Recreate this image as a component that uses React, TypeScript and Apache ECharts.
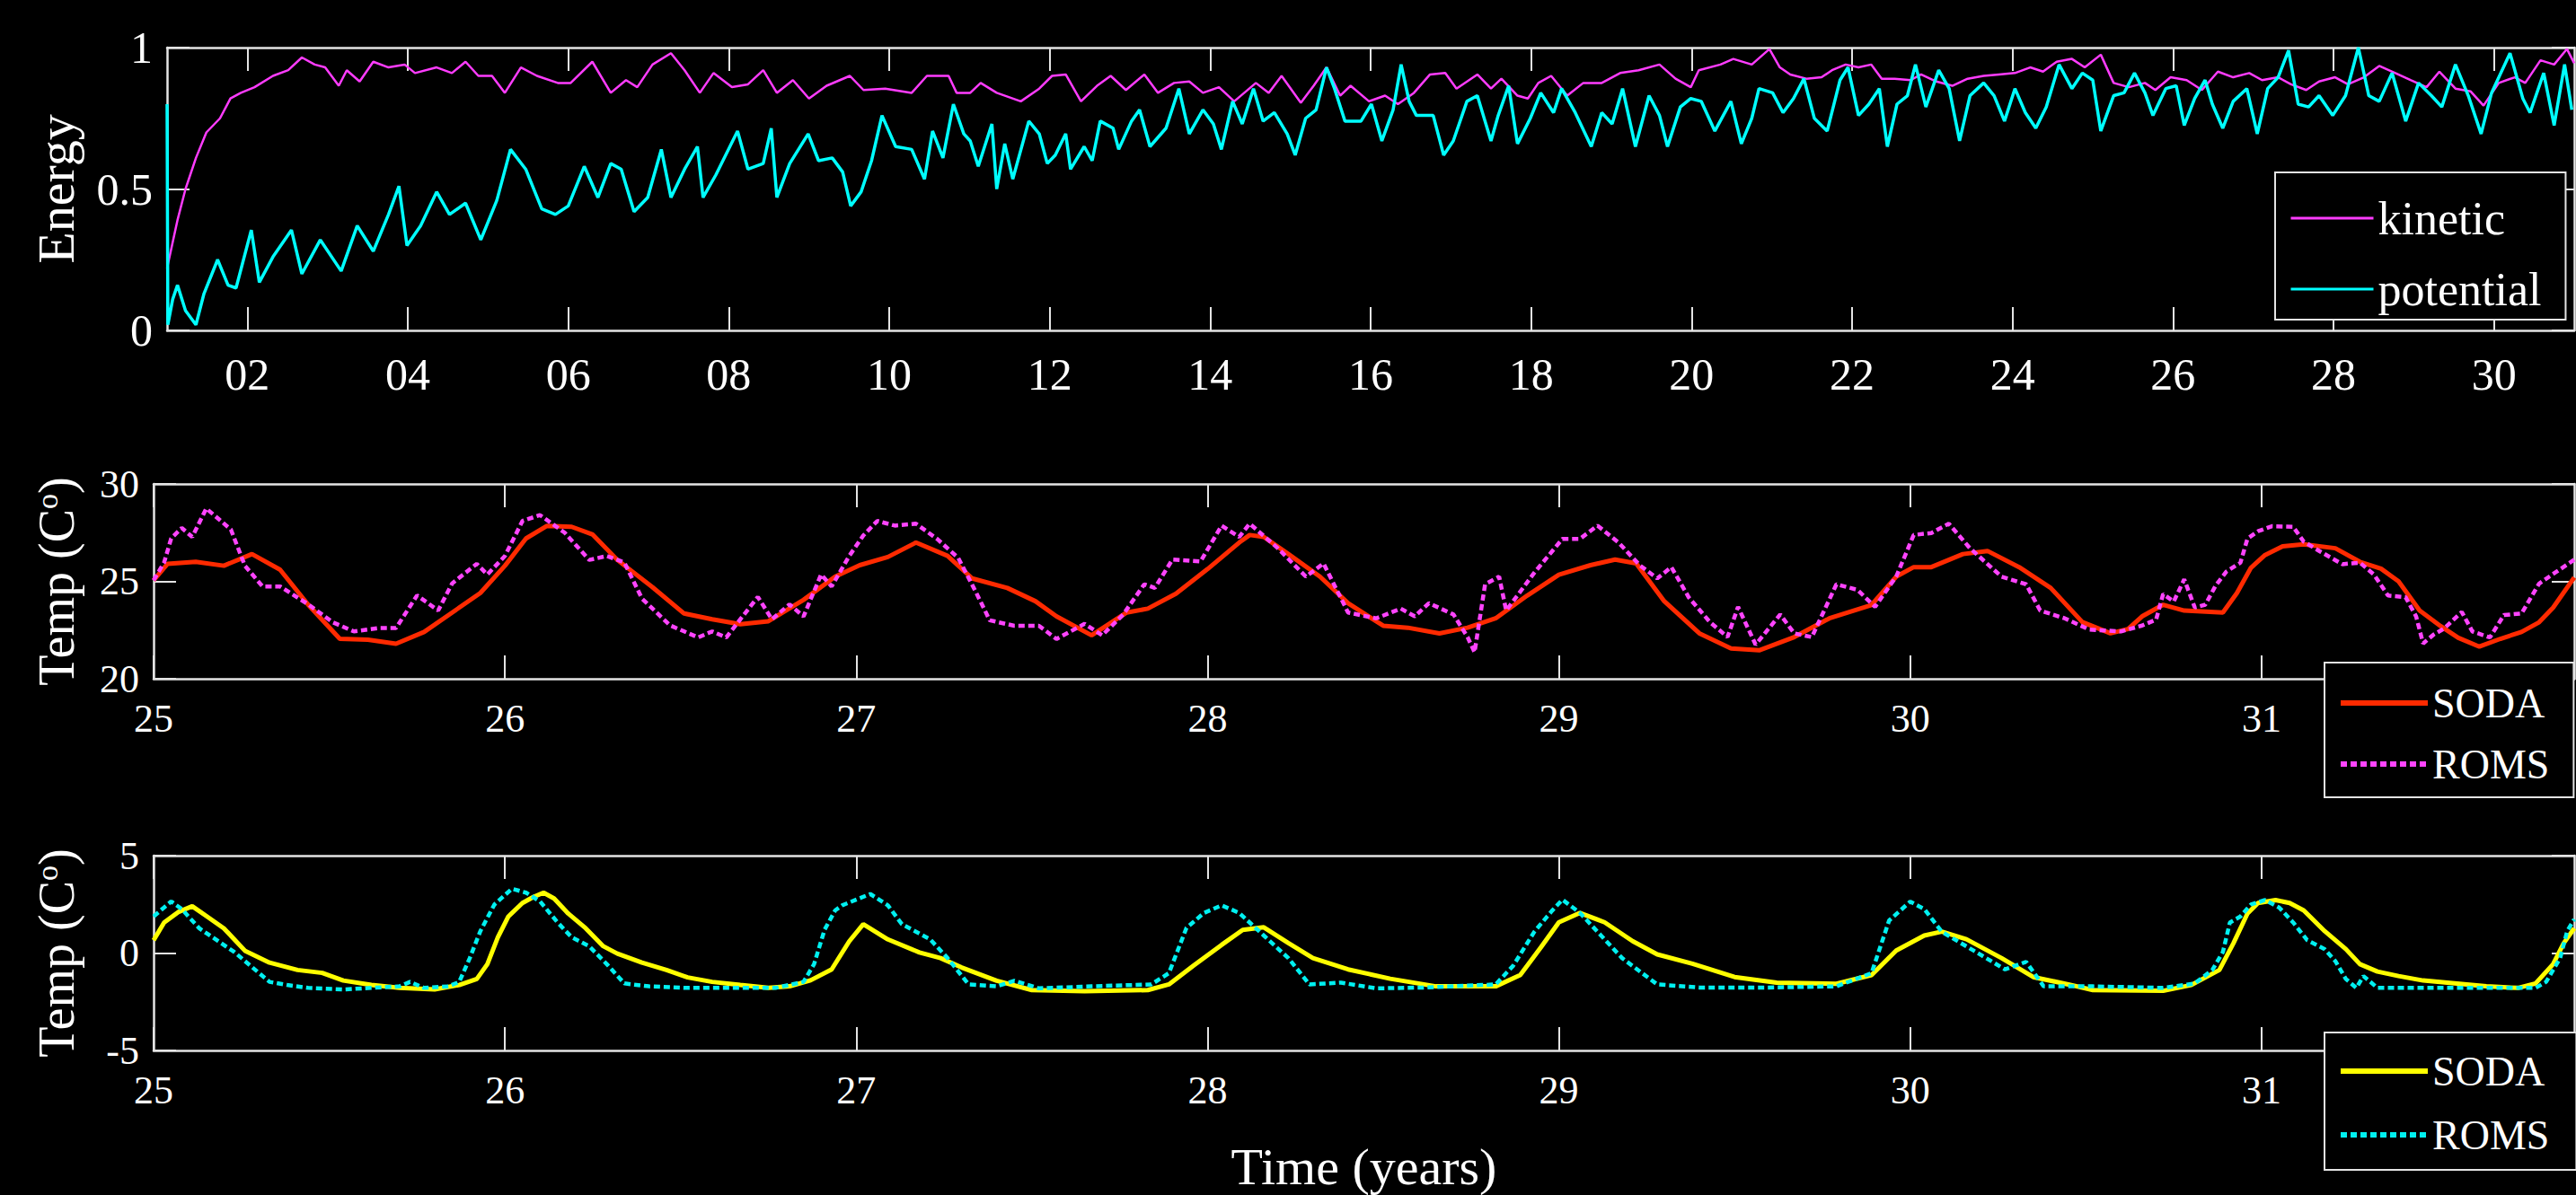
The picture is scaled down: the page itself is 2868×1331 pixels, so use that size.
import React, { useEffect, useRef } from "react";
import * as echarts from "echarts";

const W = 2868;
const H = 1331;

// ---------- Panel 1: energy (year, normalized energy) ----------
const kinetic: number[][] = [
  [1.0, 0.22], [1.13, 0.39], [1.23, 0.5], [1.36, 0.61], [1.49, 0.7], [1.66, 0.75], [1.79, 0.82], [1.92, 0.84],
  [2.09, 0.86], [2.32, 0.9], [2.51, 0.92], [2.68, 0.965], [2.84, 0.94], [2.97, 0.93], [3.14, 0.865], [3.24, 0.92],
  [3.4, 0.88], [3.57, 0.95], [3.76, 0.93], [3.96, 0.94], [4.09, 0.91], [4.36, 0.93], [4.55, 0.91], [4.72, 0.95],
  [4.88, 0.9], [5.05, 0.9], [5.21, 0.84], [5.41, 0.93], [5.61, 0.9], [5.87, 0.875], [6.03, 0.875], [6.3, 0.95],
  [6.53, 0.84], [6.72, 0.885], [6.86, 0.86], [7.05, 0.94], [7.28, 0.98], [7.45, 0.92], [7.64, 0.84], [7.81, 0.91],
  [8.04, 0.86], [8.24, 0.87], [8.43, 0.92], [8.6, 0.84], [8.8, 0.885], [9.0, 0.82], [9.22, 0.865], [9.51, 0.9],
  [9.68, 0.85], [9.95, 0.855], [10.28, 0.84], [10.47, 0.9], [10.74, 0.9], [10.84, 0.84], [11.01, 0.84], [11.14, 0.875],
  [11.34, 0.84], [11.64, 0.81], [11.87, 0.855], [12.03, 0.9], [12.2, 0.905], [12.39, 0.81], [12.59, 0.865], [12.76, 0.9],
  [12.95, 0.85], [13.18, 0.905], [13.35, 0.84], [13.55, 0.875], [13.74, 0.88], [13.91, 0.84], [14.11, 0.86], [14.3, 0.81],
  [14.57, 0.875], [14.73, 0.84], [14.89, 0.9], [15.13, 0.805], [15.29, 0.865], [15.45, 0.93], [15.62, 0.83], [15.75, 0.865],
  [15.98, 0.81], [16.18, 0.83], [16.34, 0.8], [16.54, 0.84], [16.74, 0.905], [16.93, 0.91], [17.07, 0.855], [17.33, 0.905],
  [17.5, 0.855], [17.63, 0.89], [17.83, 0.83], [17.96, 0.82], [18.09, 0.875], [18.25, 0.9], [18.45, 0.83], [18.65, 0.875],
  [18.88, 0.875], [19.11, 0.91], [19.34, 0.92], [19.6, 0.94], [19.8, 0.89], [19.99, 0.86], [20.09, 0.92], [20.36, 0.94],
  [20.52, 0.96], [20.75, 0.94], [20.97, 0.995], [21.1, 0.93], [21.23, 0.905], [21.43, 0.89], [21.62, 0.895], [21.75, 0.92],
  [21.92, 0.94], [22.08, 0.93], [22.24, 0.94], [22.37, 0.89], [22.53, 0.89], [22.73, 0.885], [22.86, 0.905], [23.05, 0.88],
  [23.25, 0.865], [23.44, 0.89], [23.64, 0.9], [23.83, 0.905], [24.03, 0.91], [24.22, 0.93], [24.38, 0.915], [24.55, 0.95],
  [24.74, 0.96], [24.9, 0.93], [25.1, 0.975], [25.26, 0.875], [25.45, 0.86], [25.65, 0.875], [25.78, 0.85], [25.97, 0.895],
  [26.17, 0.885], [26.36, 0.85], [26.56, 0.915], [26.75, 0.895], [26.95, 0.91], [27.11, 0.885], [27.31, 0.895], [27.47, 0.87],
  [27.66, 0.85], [27.82, 0.88], [28.02, 0.895], [28.18, 0.87], [28.38, 0.895], [28.57, 0.935], [28.77, 0.91], [28.96, 0.885],
  [29.16, 0.86], [29.32, 0.915], [29.52, 0.855], [29.71, 0.845], [29.87, 0.795], [30.06, 0.875], [30.26, 0.895], [30.39, 0.875],
  [30.58, 0.955], [30.75, 0.94], [30.91, 0.995], [31.0, 0.945],
];

const potential: number[][] = [
  [1.0, 0.8], [1.01, 0.02], [1.07, 0.11], [1.13, 0.16], [1.23, 0.07], [1.36, 0.02], [1.46, 0.13], [1.63, 0.25],
  [1.76, 0.16], [1.86, 0.15], [2.05, 0.355], [2.15, 0.17], [2.32, 0.26], [2.55, 0.355], [2.68, 0.2], [2.91, 0.32],
  [3.17, 0.21], [3.37, 0.37], [3.57, 0.28], [3.76, 0.41], [3.89, 0.51], [3.99, 0.3], [4.16, 0.37], [4.36, 0.49],
  [4.52, 0.41], [4.72, 0.45], [4.91, 0.32], [5.11, 0.46], [5.28, 0.64], [5.47, 0.57], [5.67, 0.43], [5.84, 0.41],
  [6.0, 0.44], [6.2, 0.58], [6.37, 0.47], [6.53, 0.59], [6.66, 0.57], [6.82, 0.42], [6.99, 0.47], [7.16, 0.64],
  [7.28, 0.47], [7.45, 0.57], [7.61, 0.65], [7.68, 0.47], [7.84, 0.55], [8.11, 0.705], [8.24, 0.57], [8.43, 0.59],
  [8.53, 0.715], [8.6, 0.47], [8.76, 0.59], [8.99, 0.695], [9.12, 0.6], [9.29, 0.61], [9.42, 0.56], [9.52, 0.44],
  [9.65, 0.49], [9.78, 0.6], [9.91, 0.76], [10.08, 0.65], [10.28, 0.64], [10.44, 0.535], [10.54, 0.705], [10.67, 0.61],
  [10.8, 0.8], [10.93, 0.695], [11.01, 0.67], [11.11, 0.58], [11.28, 0.73], [11.34, 0.5], [11.44, 0.66], [11.54, 0.535],
  [11.74, 0.74], [11.87, 0.695], [11.97, 0.59], [12.07, 0.62], [12.2, 0.695], [12.26, 0.57], [12.43, 0.65], [12.53, 0.6],
  [12.63, 0.74], [12.79, 0.715], [12.86, 0.64], [13.02, 0.74], [13.12, 0.78], [13.25, 0.65], [13.45, 0.715], [13.61, 0.855],
  [13.74, 0.695], [13.91, 0.78], [14.04, 0.73], [14.14, 0.64], [14.28, 0.81], [14.4, 0.73], [14.54, 0.855], [14.66, 0.74],
  [14.8, 0.77], [14.96, 0.695], [15.06, 0.62], [15.19, 0.75], [15.32, 0.78], [15.45, 0.93], [15.55, 0.855], [15.68, 0.74],
  [15.88, 0.74], [16.01, 0.8], [16.14, 0.67], [16.28, 0.78], [16.38, 0.94], [16.48, 0.81], [16.57, 0.76], [16.78, 0.76],
  [16.91, 0.62], [17.03, 0.67], [17.2, 0.81], [17.33, 0.83], [17.5, 0.67], [17.59, 0.76], [17.72, 0.865], [17.83, 0.66],
  [17.99, 0.75], [18.12, 0.84], [18.28, 0.77], [18.38, 0.855], [18.55, 0.77], [18.75, 0.65], [18.88, 0.77], [19.01, 0.73],
  [19.14, 0.855], [19.3, 0.65], [19.47, 0.83], [19.6, 0.76], [19.7, 0.65], [19.86, 0.79], [19.99, 0.82], [20.12, 0.81],
  [20.29, 0.705], [20.49, 0.81], [20.62, 0.66], [20.75, 0.75], [20.84, 0.855], [21.01, 0.84], [21.14, 0.77], [21.27, 0.82],
  [21.4, 0.89], [21.53, 0.75], [21.69, 0.705], [21.85, 0.885], [21.95, 0.93], [22.08, 0.76], [22.21, 0.8], [22.34, 0.855],
  [22.44, 0.65], [22.56, 0.8], [22.69, 0.83], [22.79, 0.94], [22.92, 0.79], [23.08, 0.92], [23.21, 0.855], [23.34, 0.67],
  [23.47, 0.83], [23.64, 0.875], [23.77, 0.83], [23.9, 0.74], [24.03, 0.855], [24.16, 0.77], [24.29, 0.715], [24.42, 0.79],
  [24.58, 0.94], [24.74, 0.855], [24.87, 0.91], [25.0, 0.885], [25.1, 0.705], [25.26, 0.83], [25.39, 0.84], [25.52, 0.91],
  [25.65, 0.84], [25.75, 0.76], [25.91, 0.855], [26.04, 0.865], [26.14, 0.725], [26.27, 0.82], [26.4, 0.885], [26.49, 0.8],
  [26.62, 0.715], [26.75, 0.81], [26.92, 0.855], [27.05, 0.695], [27.18, 0.855], [27.31, 0.895], [27.44, 0.99], [27.56, 0.8],
  [27.69, 0.79], [27.82, 0.83], [27.99, 0.76], [28.15, 0.83], [28.31, 1.0], [28.44, 0.83], [28.57, 0.81], [28.73, 0.91],
  [28.9, 0.74], [29.06, 0.875], [29.22, 0.83], [29.35, 0.79], [29.52, 0.94], [29.68, 0.83], [29.84, 0.695], [29.97, 0.84],
  [30.2, 0.98], [30.36, 0.82], [30.45, 0.77], [30.62, 0.91], [30.75, 0.725], [30.88, 0.94], [30.97, 0.78],
];

// ---------- Panel 2: temperature (year, °C) ----------
const sodaWarm: number[][] = [
  [25.0, 25.05], [25.04, 25.9], [25.12, 26.0], [25.2, 25.8], [25.28, 26.4], [25.36, 25.6], [25.44, 23.8], [25.53, 22.05],
  [25.61, 22.0], [25.69, 21.8], [25.77, 22.4], [25.85, 23.4], [25.93, 24.4], [26.0, 25.8], [26.06, 27.2], [26.12, 27.85],
  [26.19, 27.8], [26.25, 27.4], [26.32, 26.1], [26.42, 24.7], [26.51, 23.35], [26.59, 23.05], [26.67, 22.8], [26.75, 22.95],
  [26.85, 24.05], [26.94, 25.24], [27.01, 25.83], [27.09, 26.25], [27.17, 26.99], [27.26, 26.31], [27.33, 25.15], [27.43, 24.66],
  [27.51, 23.98], [27.57, 23.2], [27.67, 22.23], [27.77, 23.4], [27.83, 23.6], [27.91, 24.37], [28.0, 25.63], [28.09, 26.99],
  [28.12, 27.38], [28.16, 27.28], [28.23, 26.4], [28.32, 25.24], [28.4, 23.88], [28.5, 22.72], [28.57, 22.62], [28.66, 22.33],
  [28.74, 22.62], [28.82, 23.1], [28.91, 24.27], [29.0, 25.34], [29.09, 25.83], [29.16, 26.12], [29.22, 25.92], [29.3, 23.98],
  [29.4, 22.33], [29.49, 21.55], [29.57, 21.46], [29.67, 22.14], [29.77, 23.1], [29.89, 23.79], [29.96, 25.24], [30.01, 25.73],
  [30.06, 25.73], [30.15, 26.4], [30.22, 26.56], [30.31, 25.73], [30.4, 24.66], [30.49, 22.91], [30.57, 22.33], [30.62, 22.55],
  [30.66, 23.2], [30.72, 23.8], [30.78, 23.5], [30.89, 23.4], [30.93, 24.4], [30.97, 25.7], [31.01, 26.35], [31.06, 26.8],
  [31.12, 26.9], [31.21, 26.7], [31.28, 26.0], [31.34, 25.65], [31.39, 25.0], [31.45, 23.5], [31.51, 22.7], [31.56, 22.1],
  [31.62, 21.65], [31.68, 22.05], [31.74, 22.4], [31.79, 22.9], [31.83, 23.65], [31.89, 25.2],
];

const romsWarm: number[][] = [
  [25.0, 25.05], [25.03, 25.97], [25.05, 27.2], [25.08, 27.74], [25.11, 27.28], [25.15, 28.74], [25.22, 27.66], [25.26, 25.8],
  [25.31, 24.74], [25.36, 24.74], [25.44, 23.82], [25.51, 22.9], [25.57, 22.43], [25.64, 22.6], [25.69, 22.6], [25.75, 24.28],
  [25.81, 23.5], [25.85, 24.9], [25.92, 25.9], [25.95, 25.35], [26.0, 26.3], [26.05, 28.1], [26.1, 28.4], [26.17, 27.5],
  [26.24, 26.1], [26.29, 26.3], [26.34, 25.97], [26.39, 24.12], [26.47, 22.74], [26.55, 22.12], [26.59, 22.43], [26.63, 22.12],
  [26.68, 23.28], [26.72, 24.2], [26.76, 23.05], [26.81, 23.82], [26.85, 23.2], [26.9, 25.35], [26.93, 24.74], [26.98, 26.3],
  [27.02, 27.35], [27.06, 28.1], [27.11, 27.86], [27.17, 27.96], [27.23, 27.18], [27.29, 26.21], [27.34, 24.47], [27.38, 23.0],
  [27.45, 22.72], [27.52, 22.72], [27.57, 22.04], [27.65, 22.82], [27.7, 22.23], [27.76, 23.3], [27.82, 24.85], [27.85, 24.66],
  [27.9, 26.12], [27.98, 26.02], [28.04, 27.86], [28.09, 27.28], [28.12, 27.96], [28.2, 26.7], [28.28, 25.24], [28.33, 25.92],
  [28.4, 23.4], [28.48, 23.1], [28.55, 23.6], [28.59, 23.2], [28.63, 23.88], [28.7, 23.3], [28.74, 22.14], [28.76, 21.36],
  [28.79, 24.85], [28.83, 25.24], [28.85, 23.5], [28.93, 25.44], [29.01, 27.18], [29.06, 27.18], [29.11, 27.86], [29.17, 26.99],
  [29.23, 25.83], [29.28, 25.15], [29.32, 25.73], [29.37, 24.17], [29.43, 22.91], [29.48, 22.14], [29.51, 23.69], [29.56, 21.75],
  [29.63, 23.3], [29.67, 22.33], [29.72, 22.14], [29.79, 24.85], [29.85, 24.56], [29.9, 23.69], [29.96, 25.24], [30.01, 27.38],
  [30.06, 27.48], [30.11, 27.96], [30.17, 26.7], [30.26, 25.24], [30.33, 24.85], [30.37, 23.5], [30.44, 23.1], [30.51, 22.52],
  [30.6, 22.43], [30.66, 22.73], [30.7, 23.04], [30.72, 24.35], [30.75, 23.96], [30.78, 25.1], [30.81, 23.66], [30.84, 23.8],
  [30.87, 24.8], [30.9, 25.5], [30.94, 25.96], [30.96, 27.19], [30.99, 27.57], [31.03, 27.83], [31.09, 27.8], [31.12, 27.04],
  [31.17, 26.5], [31.23, 25.88], [31.28, 25.96], [31.32, 25.35], [31.36, 24.27], [31.41, 24.19], [31.44, 23.2], [31.46, 21.81],
  [31.49, 22.27], [31.52, 22.58], [31.57, 23.43], [31.6, 22.43], [31.65, 22.12], [31.69, 23.27], [31.74, 23.35], [31.79, 24.88],
  [31.84, 25.5], [31.89, 26.11],
];

// ---------- Panel 3: temperature anomaly (year, °C) ----------
const sodaAnom: number[][] = [
  [25.0, 0.66], [25.03, 1.57], [25.07, 2.1], [25.11, 2.4], [25.15, 1.9], [25.2, 1.27], [25.26, 0.12], [25.33, -0.49],
  [25.41, -0.87], [25.48, -1.02], [25.54, -1.41], [25.62, -1.64], [25.7, -1.79], [25.8, -1.87], [25.87, -1.64], [25.92, -1.33],
  [25.95, -0.57], [25.98, 0.81], [26.01, 1.88], [26.05, 2.57], [26.08, 2.87], [26.11, 3.1], [26.14, 2.8], [26.18, 2.03],
  [26.23, 1.27], [26.28, 0.35], [26.32, -0.03], [26.39, -0.49], [26.46, -0.87], [26.52, -1.25], [26.59, -1.48], [26.67, -1.64],
  [26.75, -1.79], [26.81, -1.71], [26.87, -1.4], [26.93, -0.84], [26.98, 0.6], [27.02, 1.48], [27.09, 0.7], [27.18, 0.03],
  [27.24, -0.26], [27.3, -0.74], [27.4, -1.42], [27.5, -1.9], [27.65, -1.96], [27.83, -1.9], [27.89, -1.61], [27.96, -0.65],
  [28.04, 0.42], [28.1, 1.19], [28.16, 1.32], [28.23, 0.51], [28.3, -0.26], [28.4, -0.84], [28.52, -1.32], [28.65, -1.71],
  [28.82, -1.71], [28.89, -1.13], [28.95, 0.32], [29.0, 1.58], [29.06, 2.06], [29.13, 1.58], [29.21, 0.61], [29.28, -0.07],
  [29.38, -0.55], [29.5, -1.23], [29.62, -1.52], [29.79, -1.58], [29.89, -1.13], [29.96, 0.13], [30.04, 0.9], [30.09, 1.1],
  [30.16, 0.71], [30.26, -0.26], [30.35, -1.23], [30.45, -1.61], [30.52, -1.9], [30.72, -1.94], [30.8, -1.64], [30.88, -0.87],
  [30.92, 0.5], [30.96, 2.03], [30.99, 2.57], [31.04, 2.72], [31.08, 2.57], [31.12, 2.19], [31.18, 1.12], [31.24, 0.2],
  [31.28, -0.57], [31.33, -0.95], [31.39, -1.18], [31.46, -1.41], [31.55, -1.56], [31.64, -1.71], [31.73, -1.79], [31.78, -1.56],
  [31.83, -0.57], [31.86, 0.5], [31.89, 1.27],
];

const romsAnom: number[][] = [
  [25.0, 1.88], [25.03, 2.34], [25.05, 2.65], [25.08, 2.26], [25.13, 1.27], [25.18, 0.66], [25.23, 0.05], [25.28, -0.72],
  [25.33, -1.48], [25.38, -1.64], [25.44, -1.79], [25.54, -1.87], [25.62, -1.79], [25.7, -1.71], [25.73, -1.48], [25.77, -1.79],
  [25.84, -1.71], [25.87, -1.48], [25.9, -0.26], [25.93, 1.12], [25.97, 2.49], [26.02, 3.3], [26.06, 3.1], [26.1, 2.65],
  [26.15, 1.57], [26.19, 0.81], [26.24, 0.35], [26.29, -0.57], [26.34, -1.56], [26.41, -1.71], [26.52, -1.79], [26.65, -1.79],
  [26.77, -1.79], [26.85, -1.48], [26.88, -0.57], [26.91, 1.2], [26.94, 2.19], [26.96, 2.45], [27.04, 3.03], [27.09, 2.45],
  [27.13, 1.48], [27.21, 0.71], [27.26, -0.26], [27.32, -1.61], [27.4, -1.71], [27.45, -1.42], [27.52, -1.81], [27.67, -1.71],
  [27.84, -1.61], [27.89, -1.03], [27.94, 1.29], [27.99, 2.06], [28.04, 2.45], [28.09, 2.06], [28.16, 0.9], [28.23, -0.26],
  [28.29, -1.61], [28.38, -1.52], [28.48, -1.81], [28.62, -1.77], [28.82, -1.61], [28.87, -0.65], [28.93, 1.09], [28.98, 2.16],
  [29.01, 2.74], [29.06, 2.06], [29.12, 0.9], [29.18, -0.26], [29.28, -1.61], [29.4, -1.77], [29.59, -1.77], [29.79, -1.71],
  [29.89, -1.03], [29.94, 1.67], [30.0, 2.64], [30.04, 2.26], [30.09, 1.09], [30.18, 0.13], [30.27, -0.84], [30.33, -0.45],
  [30.38, -1.71], [30.52, -1.71], [30.72, -1.79], [30.81, -1.56], [30.86, -0.87], [30.89, 0.05], [30.91, 1.57], [30.94, 1.88],
  [30.97, 2.49], [31.01, 2.72], [31.05, 2.34], [31.09, 1.57], [31.13, 0.66], [31.18, 0.2], [31.21, -0.41], [31.24, -1.33],
  [31.27, -1.79], [31.29, -1.18], [31.33, -1.79], [31.46, -1.79], [31.64, -1.79], [31.78, -1.79], [31.81, -1.48], [31.85, -0.26],
  [31.87, 1.12], [31.89, 1.73],
];

// ---------- tick values ----------
const energyYearTicks = [2, 4, 6, 8, 10, 12, 14, 16, 18, 20, 22, 24, 26, 28, 30];
const tempYearTicks = [25, 26, 27, 28, 29, 30, 31];

const FONT = "Liberation Serif";
const AX = "#e4e4e4";

const C_KIN = "#ff3cff";
const C_POT = "#00ffff";
const C_RED = "#ff2a00";
const C_MAG = "#ff44ff";
const C_YEL = "#ffff00";
const C_CYA = "#00f0f0";

function xAxes(gridIndex: number, min: number, max: number, ticks: number[], fmt: (v: number) => string,
  fontSize: number, margin: number, name?: string) {
  const tick = { show: true, inside: true, length: 26, lineStyle: { color: AX, width: 2 }, customValues: ticks };
  const line = { show: true, onZero: false, lineStyle: { color: AX, width: 2.5 } };
  return [
    {
      type: "value", gridIndex, position: "bottom", min, max,
      axisLine: line, axisTick: tick, splitLine: { show: false },
      axisLabel: { show: true, customValues: ticks, formatter: fmt, color: "#ffffff", fontSize, fontFamily: FONT, margin },
      name, nameLocation: "middle", nameGap: 100,
      nameTextStyle: { color: "#ffffff", fontSize: 58, fontFamily: FONT },
    },
    {
      type: "value", gridIndex, position: "top", min, max,
      axisLine: line, axisTick: tick, splitLine: { show: false }, axisLabel: { show: false },
    },
  ];
}

function yAxes(gridIndex: number, min: number, max: number, interval: number, fontSize: number,
  name: string, nameGap: number, nameSize: number, rich?: any) {
  const tick = { show: true, inside: true, length: 25, lineStyle: { color: AX, width: 2 } };
  const line = { show: true, onZero: false, lineStyle: { color: AX, width: 2.5 } };
  return [
    {
      type: "value", gridIndex, position: "left", min, max, interval,
      axisLine: line, axisTick: tick, splitLine: { show: false },
      axisLabel: { show: true, color: "#ffffff", fontSize, fontFamily: FONT, margin: 16, formatter: (v: number) => String(v) },
      name, nameLocation: "middle", nameGap, nameRotate: 90,
      nameTextStyle: { color: "#ffffff", fontSize: nameSize, fontFamily: FONT, rich },
    },
    {
      type: "value", gridIndex, position: "right", min, max, interval,
      axisLine: line, axisTick: tick, splitLine: { show: false }, axisLabel: { show: false },
    },
  ];
}

function legendBox(left: number, top: number, padding: number[], itemGap: number, itemWidth: number,
  fontSize: number, lineHeight: number, data: any[]) {
  return {
    show: true, orient: "vertical", left, top, padding, itemGap, itemWidth, itemHeight: 4,
    borderColor: AX, borderWidth: 2, borderRadius: 0, backgroundColor: "#000000",
    selectedMode: false, z: 20,
    textStyle: { color: "#ffffff", fontSize, fontFamily: FONT, lineHeight },
    data,
  };
}

export default function App() {
  const ref = useRef<HTMLDivElement>(null);

  useEffect(() => {
    const chart = echarts.init(ref.current!, null, { renderer: "svg", width: W, height: H });

    const supRich = {
      s: { fontSize: 34, fontFamily: FONT, color: "#ffffff", verticalAlign: "top", padding: [0, 0, 22, 0] },
    };

    const option: any = {
      animation: false,
      backgroundColor: "#000000",
      grid: [
        { left: 186, top: 53, width: 2680, height: 315, containLabel: false, outerBoundsMode: "none" },
        { left: 171, top: 539, width: 2695, height: 217, containLabel: false, outerBoundsMode: "none" },
        { left: 171, top: 953, width: 2695, height: 217, containLabel: false, outerBoundsMode: "none" },
      ],
      xAxis: [
        ...xAxes(0, 1, 31, energyYearTicks, (v: number) => (v < 10 ? "0" : "") + v, 50, 24),
        ...xAxes(1, 25, 31.89, tempYearTicks, (v: number) => String(v), 44, 22),
        ...xAxes(2, 25, 31.89, tempYearTicks, (v: number) => String(v), 44, 22, "Time (years)"),
      ],
      yAxis: [
        ...yAxes(0, 0, 1, 0.5, 50, "Energy", 95, 58),
        ...yAxes(1, 20, 30, 5, 44, "Temp (C{s|o})", 80, 56, supRich),
        ...yAxes(2, -5, 5, 5, 44, "Temp (C{s|o})", 80, 56, supRich),
      ],
      legend: [
        legendBox(2533, 192, [21, 27, 4, 16], 19, 92, 52, 60, [
          { name: "kinetic", itemStyle: { opacity: 0 }, lineStyle: { color: C_KIN, width: 3, type: "solid" } },
          { name: "potential", itemStyle: { opacity: 0 }, lineStyle: { color: C_POT, width: 3, type: "solid" } },
        ]),
        legendBox(2588, 738, [20, 27, 12, 15], 18, 97, 46, 50, [
          { name: "SODA", itemStyle: { opacity: 0 }, lineStyle: { color: C_RED, width: 6, type: "solid" } },
          { name: "ROMS", itemStyle: { opacity: 0 }, lineStyle: { color: C_MAG, width: 6, type: [7, 4] } },
        ]),
        legendBox(2588, 1150, [18, 30, 14, 15], 21, 97, 46, 50, [
          { name: "SODA", itemStyle: { opacity: 0 }, lineStyle: { color: C_YEL, width: 6, type: "solid" } },
          { name: "ROMS", itemStyle: { opacity: 0 }, lineStyle: { color: C_CYA, width: 6, type: [7, 4] } },
        ]),
      ],
      series: [
        { name: "kinetic", type: "line", xAxisIndex: 0, yAxisIndex: 0, data: kinetic, symbol: "none",
          lineStyle: { color: C_KIN, width: 2.5 }, itemStyle: { color: C_KIN } },
        { name: "potential", type: "line", xAxisIndex: 0, yAxisIndex: 0, data: potential, symbol: "none",
          lineStyle: { color: C_POT, width: 3.5 }, itemStyle: { color: C_POT } },
        { name: "SODA", type: "line", xAxisIndex: 2, yAxisIndex: 2, data: sodaWarm, symbol: "none",
          lineStyle: { color: C_RED, width: 5 }, itemStyle: { color: C_RED } },
        { name: "ROMS", type: "line", xAxisIndex: 2, yAxisIndex: 2, data: romsWarm, symbol: "none",
          lineStyle: { color: C_MAG, width: 4.5, type: [7, 4] }, itemStyle: { color: C_MAG } },
        { name: "SODA", type: "line", xAxisIndex: 4, yAxisIndex: 4, data: sodaAnom, symbol: "none",
          lineStyle: { color: C_YEL, width: 5 }, itemStyle: { color: C_YEL } },
        { name: "ROMS", type: "line", xAxisIndex: 4, yAxisIndex: 4, data: romsAnom, symbol: "none",
          lineStyle: { color: C_CYA, width: 4.5, type: [7, 4] }, itemStyle: { color: C_CYA } },
      ],
    };

    chart.setOption(option);
    return () => {
      chart.dispose();
    };
  }, []);

  return (
    <div
      ref={ref}
      style={{ position: "fixed", left: 0, top: 0, width: W, height: H, background: "#000000" }}
    />
  );
}
